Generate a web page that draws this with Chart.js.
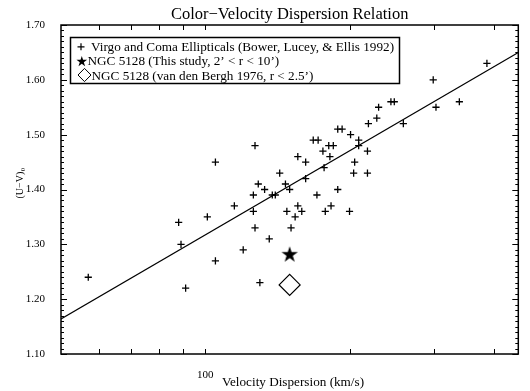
<!DOCTYPE html>
<html>
<head>
<meta charset="utf-8">
<script src="https://cdn.jsdelivr.net/npm/chart.js@4.4.1/dist/chart.umd.min.js"></script>
<style>
  html, body { margin: 0; padding: 0; background: #fff; }
</style>
</head>
<body>
<canvas id="myChart" width="530" height="391"></canvas>
<script>
// Virgo and Coma ellipticals: velocity dispersion (km/s) and (U-V)0 colour
const ellSigma = [387, 299, 339, 303, 244, 248, 230, 228, 219, 259,
                  189, 193, 201, 209, 209, 168, 172, 176, 181, 185,
                  182, 218, 156, 162, 177, 205, 143, 204, 218, 147,
                  162, 150, 133, 138, 140, 171, 189, 127, 105, 129,
                  126, 57, 88, 89, 91, 101, 105, 115, 120, 126,
                  127, 130, 148, 156, 159, 154, 151, 136, 178, 183, 200];
const ellColor = [1.63, 1.60, 1.56, 1.55, 1.56, 1.56, 1.55, 1.53, 1.52, 1.52,
                  1.51, 1.51, 1.50, 1.49, 1.48, 1.49, 1.49, 1.47, 1.48, 1.48,
                  1.46, 1.47, 1.46, 1.45, 1.44, 1.45, 1.43, 1.43, 1.43, 1.41,
                  1.42, 1.40, 1.40, 1.39, 1.39, 1.39, 1.40, 1.48, 1.45, 1.41,
                  1.39, 1.24, 1.34, 1.30, 1.22, 1.35, 1.27, 1.37, 1.29, 1.36,
                  1.33, 1.23, 1.36, 1.37, 1.36, 1.35, 1.33, 1.31, 1.36, 1.37, 1.36];

// NGC 5128
const thisStudySigma = [150];
const thisStudyColor = [1.281];
const vdbSigma = [150];
const vdbColor = [1.226];

// fitted colour-sigma relation, end points
const fitSigma = [50, 450];
const fitColor = [1.164, 1.650];

const yTickLabels = ['1.10', '1.20', '1.30', '1.40', '1.50', '1.60', '1.70'];
const xTicks = [60, 70, 80, 90, 100, 200, 300, 400];
const xTickLabels = ['', '', '', '', '100', '', '', ''];

const legendLabels = [
    'Virgo and Coma Ellipticals (Bower, Lucey, & Ellis 1992)',
    'NGC 5128 (This study, 2\u2019 < r < 10\u2019)',
    'NGC 5128 (van den Bergh 1976, r < 2.5\u2019)'
];

const FONT = "'Liberation Serif', 'Times New Roman', serif";

function toPoints(xs, ys) {
    return xs.map((x, i) => ({ x, y: ys[i] }));
}

function drawStar(ctx, cx, cy, r) {
    const inner = r * 0.382;
    ctx.beginPath();
    for (let i = 0; i < 10; i++) {
        const rad = (i % 2 === 0) ? r : inner;
        const a = -Math.PI / 2 + i * Math.PI / 5;
        const px = cx + rad * Math.cos(a);
        const py = cy + rad * Math.sin(a);
        if (i === 0) ctx.moveTo(px, py); else ctx.lineTo(px, py);
    }
    ctx.closePath();
    ctx.fill();
}

// filled five point star used as point style
const starImg = document.createElement('canvas');
starImg.width = 20;
starImg.height = 20;
(function () {
    const c = starImg.getContext('2d');
    c.fillStyle = '#000';
    drawStar(c, 10, 10, 8.6);
})();

const framePlugin = {
    id: 'frame',
    afterDraw(chart) {
        const ctx = chart.ctx;
        const area = chart.chartArea;
        const xs = chart.scales.x;
        const ys = chart.scales.y;
        ctx.save();
        ctx.strokeStyle = '#000';
        ctx.fillStyle = '#000';

        // box round the plot
        ctx.lineWidth = 1.5;
        ctx.strokeRect(area.left, area.top, area.right - area.left, area.bottom - area.top);

        // inward ticks
        ctx.lineWidth = 1;
        ctx.beginPath();
        for (const v of xTicks) {
            const px = Math.round(xs.getPixelForValue(v)) + 0.5;
            ctx.moveTo(px, area.bottom); ctx.lineTo(px, area.bottom - 5);
            ctx.moveTo(px, area.top); ctx.lineTo(px, area.top + 5);
        }
        for (let k = 110; k <= 170; k++) {
            const py = Math.round(ys.getPixelForValue(k / 100)) + 0.5;
            const len = (k % 10 === 0) ? 6 : 3;
            ctx.moveTo(area.left, py); ctx.lineTo(area.left + len, py);
            ctx.moveTo(area.right, py); ctx.lineTo(area.right - len, py);
        }
        ctx.stroke();

        // titles
        ctx.textAlign = 'center';
        ctx.textBaseline = 'alphabetic';
        ctx.font = '16.5px ' + FONT;
        ctx.fillText('Color\u2212Velocity Dispersion Relation', (area.left + area.right) / 2, 18.5);
        ctx.font = '13.2px ' + FONT;
        ctx.fillText('Velocity Dispersion (km/s)', 293, 386);

        ctx.save();
        ctx.translate(22.5, 198.5);
        ctx.rotate(-Math.PI / 2);
        ctx.textAlign = 'left';
        ctx.font = '10px ' + FONT;
        ctx.fillText('(U\u2212V)', 0, 0);
        const w = ctx.measureText('(U\u2212V)').width;
        ctx.font = '7px ' + FONT;
        ctx.fillText('0', w + 0.5, 2.5);
        ctx.restore();

        // legend box
        const bx = 70, by = 37, bw = 329, bh = 46;
        ctx.fillStyle = '#fff';
        ctx.fillRect(bx, by, bw, bh);
        ctx.fillStyle = '#000';
        ctx.lineWidth = 1.5;
        ctx.strokeRect(bx + 0.5, by + 0.5, bw, bh);

        const rowY = [51, 65.3, 79.5];
        ctx.textAlign = 'left';
        ctx.font = '13.2px ' + FONT;

        ctx.lineWidth = 1.2;
        ctx.beginPath();
        ctx.moveTo(77.5, 46.8); ctx.lineTo(84.5, 46.8);
        ctx.moveTo(81, 43.3); ctx.lineTo(81, 50.3);
        ctx.stroke();
        ctx.fillText(chart.data.datasets[0].label, 91, rowY[0]);

        drawStar(ctx, 81.8, 61.6, 5.6);
        ctx.fillText(chart.data.datasets[1].label, 87.5, rowY[1]);

        ctx.lineWidth = 1;
        ctx.beginPath();
        ctx.moveTo(78, 75); ctx.lineTo(84.5, 68.4);
        ctx.lineTo(91, 75); ctx.lineTo(84.5, 81.6);
        ctx.closePath();
        ctx.stroke();
        ctx.fillText(chart.data.datasets[2].label, 91.5, rowY[2]);

        ctx.restore();
    }
};

const ctx = document.getElementById('myChart');
const myChart = new Chart(ctx, {
    type: 'scatter',
    data: {
        datasets: [{
            label: legendLabels[0],
            data: toPoints(ellSigma, ellColor),
            pointStyle: 'cross',
            pointRadius: 3.6,
            pointBorderWidth: 1.3,
            borderColor: '#000',
            backgroundColor: '#000',
        }, {
            label: legendLabels[1],
            data: toPoints(thisStudySigma, thisStudyColor),
            pointStyle: starImg,
            borderColor: '#000',
            backgroundColor: '#000',
        }, {
            label: legendLabels[2],
            data: toPoints(vdbSigma, vdbColor),
            pointStyle: 'rectRot',
            pointRadius: 10.5,
            pointBorderWidth: 1.2,
            borderColor: '#000',
            backgroundColor: 'rgba(0,0,0,0)',
        }, {
            label: 'fit',
            type: 'line',
            data: toPoints(fitSigma, fitColor),
            borderColor: '#000',
            borderWidth: 1.2,
            pointRadius: 0,
            showLine: true,
            fill: false,
        }]
    },
    plugins: [framePlugin],
    options: {
        responsive: false,
        animation: false,
        events: [],
        layout: { padding: { top: 25, right: 6, bottom: 0, left: 0 } },
        plugins: {
            legend: { display: false },
            title: { display: false },
            tooltip: { enabled: false },
        },
        scales: {
            x: {
                type: 'logarithmic',
                min: 50,
                max: 450,
                border: { display: false },
                grid: { display: false },
                afterBuildTicks: (scale) => {
                    scale.ticks = xTicks.map(v => ({ value: v }));
                },
                afterFit: (scale) => { scale.height = 37; },
                ticks: {
                    autoSkip: false,
                    maxRotation: 0,
                    padding: 7,
                    color: '#000',
                    font: { family: FONT, size: 11 },
                    callback: (val, i) => xTickLabels[i],
                },
            },
            y: {
                min: 1.10,
                max: 1.70,
                border: { display: false },
                grid: { display: false },
                afterBuildTicks: (scale) => {
                    scale.ticks = yTickLabels.map(t => ({ value: Number(t) }));
                },
                afterFit: (scale) => { scale.width = 61; },
                ticks: {
                    padding: 8,
                    color: '#000',
                    font: { family: FONT, size: 11 },
                    callback: (val, i) => yTickLabels[i],
                },
            }
        }
    }
});
</script>
</body>
</html>
